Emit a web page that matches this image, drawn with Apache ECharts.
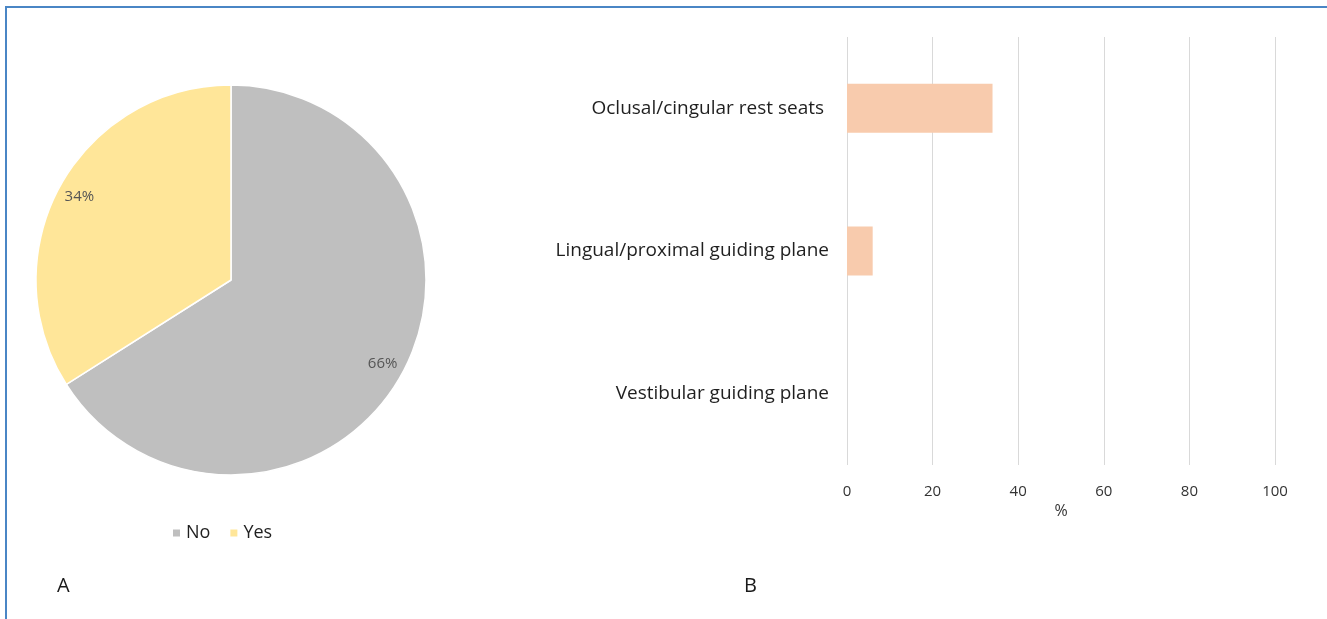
<!DOCTYPE html>
<html>
<head>
<meta charset="utf-8">
<script src="https://cdn.jsdelivr.net/npm/echarts@6/dist/echarts.min.js"></script>
<style>
  html, body { margin: 0; padding: 0; background: #fff; }
  #frame { position: absolute; left: 5px; top: 6px; width: 1322px; height: 613px;
           border-top: 2px solid #4a86c5; border-left: 2px solid #4a86c5; box-sizing: border-box; }
  #chart { position: absolute; left: 0; top: 0; width: 1327px; height: 619px; }
</style>
</head>
<body>
<div id="frame"></div>
<div id="chart"></div>
<script>
// Panel A: answer shares
const pieLabels = ['No', 'Yes'];
const pieValues = [66, 34];
const pieColors = ['#bfbfbf', '#ffe699'];

// Panel B: prepared features (%)
const barCategories = ['Oclusal/cingular rest seats ', 'Lingual/proximal guiding plane', 'Vestibular guiding plane'];
const barValues = [34, 6, 0];
const xTicks = [0, 20, 40, 60, 80, 100];

const chart = echarts.init(document.getElementById('chart'), null, { renderer: 'canvas' });
const font = "'Open Sans', 'Noto Sans', sans-serif";

const pieData = pieLabels.map((n, i) => ({ name: n, value: pieValues[i], itemStyle: { color: pieColors[i] } }));

chart.setOption({
  animation: false,
  textStyle: { fontFamily: font },
  legend: {
    data: pieLabels,
    left: 166, top: 519,
    itemWidth: 9, itemHeight: 9, itemGap: 18,
    icon: 'rect',
    textStyle: { fontSize: 18, color: '#1f1f1f', fontFamily: font }
  },
  grid: { left: 847, right: 52, top: 37, bottom: 154, containLabel: false },
  xAxis: {
    type: 'value', min: 0, max: 100, interval: 20,
    name: '%', nameLocation: 'middle', nameGap: 38,
    nameTextStyle: { fontSize: 16, color: '#333', fontFamily: font },
    axisLine: { show: false }, axisTick: { show: false },
    axisLabel: { fontSize: 15, color: '#333', margin: 19, fontFamily: font,
                 formatter: v => xTicks.includes(v) ? String(v) : '' },
    splitLine: { lineStyle: { color: '#d9d9d9', width: 1 } }
  },
  yAxis: {
    type: 'category', data: barCategories, inverse: true,
    axisLine: { show: false }, axisTick: { show: false },
    axisLabel: { fontSize: 19, color: '#1f1f1f', margin: 18, fontFamily: font }
  },
  series: [
    {
      type: 'pie', center: [231, 280], radius: [0, 195],
      startAngle: 90, clockwise: true,
      data: pieData,
      itemStyle: { borderColor: '#fff', borderWidth: 1.5 },
      label: { show: false }, labelLine: { show: false },
      emphasis: { disabled: true }, silent: true
    },
    {
      // transparent ring that places the percentage labels near the rim
      type: 'pie', center: [231, 280], radius: [145, 195],
      startAngle: 90, clockwise: true,
      data: pieData.map(d => ({ name: d.name, value: d.value })),
      itemStyle: { color: 'rgba(0,0,0,0)' },
      label: { show: true, position: 'inside', formatter: '{c}%', fontSize: 15, color: '#555', fontFamily: font },
      labelLine: { show: false },
      emphasis: { disabled: true }, silent: true,
      legendHoverLink: false
    },
    {
      type: 'bar', data: barValues, barWidth: 49,
      itemStyle: { color: '#f8cbad' }
    }
  ],
  graphic: [
    { type: 'text', left: 57, top: 576, style: { text: 'A', fontSize: 20, fill: '#1a1a1a', fontFamily: font } },
    { type: 'text', left: 744, top: 576, style: { text: 'B', fontSize: 20, fill: '#1a1a1a', fontFamily: font } }
  ]
});
</script>
</body>
</html>
